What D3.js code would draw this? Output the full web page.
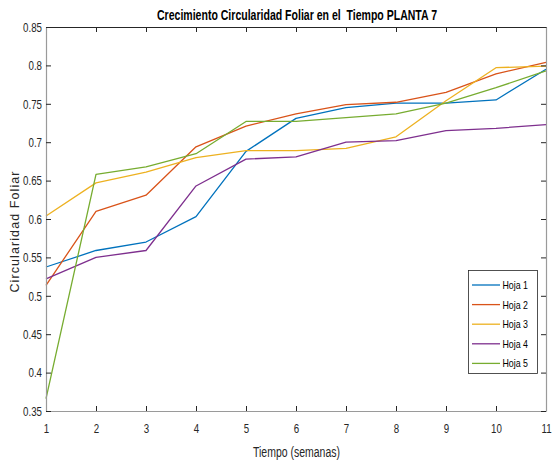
<!DOCTYPE html>
<html><head><meta charset="utf-8">
<script src="https://cdn.jsdelivr.net/npm/d3@7"></script>
<style>
html,body{margin:0;padding:0;background:#fff;}
text{font-family:"Liberation Sans",Arial,sans-serif;}
</style></head>
<body>
<svg id="c" width="554" height="461"></svg>
<script>
const weeks = [1,2,3,4,5,6,7,8,9,10,11];
const seriesNames = ["Hoja 1","Hoja 2","Hoja 3","Hoja 4","Hoja 5"];
const hoja1 = [0.5375,0.559,0.570,0.603,0.688,0.731,0.745,0.751,0.751,0.755,0.795];
const hoja2 = [0.5135,0.610,0.631,0.694,0.721,0.737,0.749,0.752,0.765,0.789,0.804];
const hoja3 = [0.604,0.647,0.661,0.680,0.689,0.689,0.692,0.707,0.754,0.797,0.799];
const hoja4 = [0.522,0.550,0.559,0.643,0.678,0.681,0.700,0.702,0.715,0.718,0.723];
const hoja5 = [0.366,0.658,0.668,0.685,0.727,0.727,0.732,0.737,0.751,0.771,0.793];
const colors = ["#0072BD","#D95319","#EDB120","#7E2F8E","#77AC30"];
const yTicks = [0.35,0.4,0.45,0.5,0.55,0.6,0.65,0.7,0.75,0.8,0.85];
const yTickLabels = ["0.35","0.4","0.45","0.5","0.55","0.6","0.65","0.7","0.75","0.8","0.85"];
const title = "Crecimiento Circularidad Foliar en el  Tiempo PLANTA 7";
const xLabel = "Tiempo (semanas)";
const yLabel = "Circularidad Foliar";

const allSeries = [hoja1,hoja2,hoja3,hoja4,hoja5];
const L=46, R=546, T=27, B=411;
const svg = d3.select("#c");
const x = d3.scaleLinear().domain([1,11]).range([L,R]);
const y = d3.scaleLinear().domain([0.35,0.85]).range([B,T]);

function condense(sel, f){
  sel.each(function(){
    const n = this.getComputedTextLength();
    if(n>0) d3.select(this).attr("textLength", n*f).attr("lengthAdjust","spacingAndGlyphs");
  });
}

// lines
const line = d3.line().x((d,i)=>x(weeks[i])).y(d=>y(d));
allSeries.forEach((s,k)=>{
  svg.append("path").attr("d",line(s)).attr("fill","none")
    .attr("stroke",colors[k]).attr("stroke-width",1.3).attr("stroke-linejoin","round");
});

// axes
const axB = svg.append("g").attr("transform",`translate(0,${B})`)
  .call(d3.axisBottom(x).tickValues(weeks).tickFormat(d3.format("d")).tickSizeInner(-5).tickSizeOuter(0).tickPadding(12));
const axT = svg.append("g").attr("transform",`translate(0,${T})`)
  .call(d3.axisTop(x).tickValues(weeks).tickFormat("").tickSizeInner(-5).tickSizeOuter(0));
const axL = svg.append("g").attr("transform",`translate(${L},0)`)
  .call(d3.axisLeft(y).tickValues(yTicks).tickFormat((d,i)=>yTickLabels[i]).tickSizeInner(-5).tickSizeOuter(0).tickPadding(4));
const axR = svg.append("g").attr("transform",`translate(${R},0)`)
  .call(d3.axisRight(y).tickValues(yTicks).tickFormat("").tickSizeInner(-5).tickSizeOuter(0));
[axB,axT,axL,axR].forEach(a=>{
  a.select(".domain").attr("stroke","#9a9a9a").attr("stroke-width",1.2);
  a.selectAll(".tick line").attr("stroke","#262626");
  a.selectAll("text").attr("font-size",13.5).attr("fill","#262626").style("font-family","'Liberation Sans',Arial,sans-serif");
});
axT.select(".domain").attr("stroke","#262626");
condense(axB.selectAll("text"),0.72);
condense(axL.selectAll("text"),0.72);

// title, labels
const tt = svg.append("text").attr("x",297).attr("y",20).attr("text-anchor","middle")
  .attr("font-size",14).attr("font-weight","bold").attr("fill","#000")
  .style("white-space","pre").text(title);
tt.attr("textLength",280).attr("lengthAdjust","spacingAndGlyphs");
svg.append("text").attr("x",296.5).attr("y",457).attr("text-anchor","middle")
  .attr("font-size",14).attr("fill","#262626").text(xLabel)
  .attr("textLength",87).attr("lengthAdjust","spacingAndGlyphs");
svg.append("text").attr("transform","translate(18.5,232) rotate(-90)").attr("text-anchor","middle")
  .attr("font-size",12.5).attr("fill","#262626")
  .attr("textLength",121).attr("lengthAdjust","spacing").text(yLabel);

// legend
const lg = svg.append("g");
lg.append("rect").attr("x",468.5).attr("y",270.5).attr("width",69).attr("height",103)
  .attr("fill","#fff").attr("stroke","#262626").attr("stroke-width",0.8);
seriesNames.forEach((n,k)=>{
  const yy = 285 + k*19.6;
  lg.append("line").attr("x1",472).attr("x2",500).attr("y1",yy).attr("y2",yy)
    .attr("stroke",colors[k]).attr("stroke-width",1.3);
  const t = lg.append("text").attr("x",502.5).attr("y",yy+4).attr("font-size",11.5).attr("fill","#000").text(n);
  t.attr("textLength",25.5).attr("lengthAdjust","spacingAndGlyphs");
});
</script>
</body></html>
